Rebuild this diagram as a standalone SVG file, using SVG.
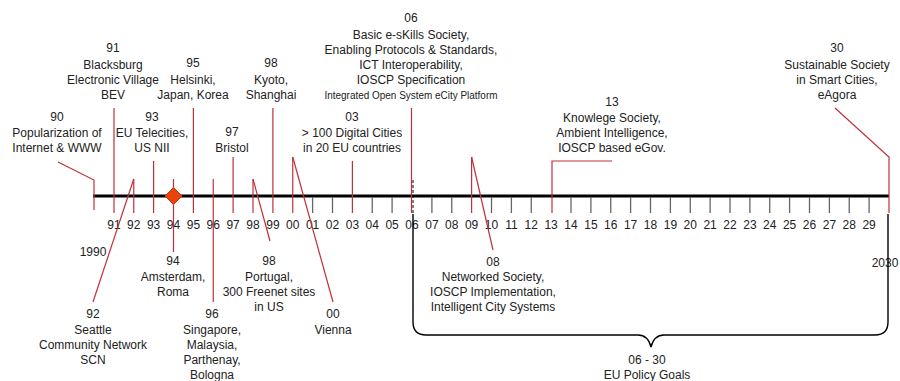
<svg xmlns="http://www.w3.org/2000/svg" width="900" height="381" viewBox="0 0 900 381">
<style>
text{font-family:"Liberation Sans",Arial,sans-serif;font-size:12px;fill:#222;text-anchor:middle}
.small{font-size:10px}
.ld{stroke:#c0303a;stroke-width:1.2;fill:none}
.tk{stroke:#666;stroke-width:1.3}
.ax{stroke:#000;stroke-width:3}
.br{stroke:#000;stroke-width:1.4;fill:none}
</style>
<rect width="900" height="381" fill="#fff"/>
<g id="axis">
<line class="ax" x1="93" y1="196" x2="889" y2="196"/>
<g class="tk">
<line x1="312.6" y1="197" x2="312.6" y2="213"/>
<line x1="332.5" y1="197" x2="332.5" y2="213"/>
<line x1="372.25" y1="197" x2="372.25" y2="213"/>
<line x1="392.1" y1="197" x2="392.1" y2="213"/>
<line x1="431.9" y1="197" x2="431.9" y2="213"/>
<line x1="451.75" y1="197" x2="451.75" y2="213"/>
<line x1="491.5" y1="197" x2="491.5" y2="213"/>
<line x1="511.4" y1="197" x2="511.4" y2="213"/>
<line x1="531.25" y1="197" x2="531.25" y2="213"/>
<line x1="571" y1="197" x2="571" y2="213"/>
<line x1="590.9" y1="197" x2="590.9" y2="213"/>
<line x1="610.75" y1="197" x2="610.75" y2="213"/>
<line x1="630.6" y1="197" x2="630.6" y2="213"/>
<line x1="650.5" y1="197" x2="650.5" y2="213"/>
<line x1="670.4" y1="197" x2="670.4" y2="213"/>
<line x1="690.25" y1="197" x2="690.25" y2="213"/>
<line x1="710.1" y1="197" x2="710.1" y2="213"/>
<line x1="730" y1="197" x2="730" y2="213"/>
<line x1="749.9" y1="197" x2="749.9" y2="213"/>
<line x1="769.75" y1="197" x2="769.75" y2="213"/>
<line x1="789.6" y1="197" x2="789.6" y2="213"/>
<line x1="809.5" y1="197" x2="809.5" y2="213"/>
<line x1="829.4" y1="197" x2="829.4" y2="213"/>
<line x1="849.25" y1="197" x2="849.25" y2="213"/>
<line x1="869.1" y1="197" x2="869.1" y2="213"/>
</g>
<line x1="413" y1="180" x2="413" y2="213" stroke="#000" stroke-width="1" stroke-dasharray="3,2"/>
<g id="tick-labels">
<text x="113.9" y="229">91</text><text x="133.75" y="229">92</text><text x="153.6" y="229">93</text><text x="173.5" y="229">94</text>
<text x="193.4" y="229">95</text><text x="213.25" y="229">96</text><text x="233.1" y="229">97</text><text x="253" y="229">98</text>
<text x="272.9" y="229">99</text><text x="292.75" y="229">00</text><text x="312.6" y="229">01</text><text x="332.5" y="229">02</text>
<text x="352.4" y="229">03</text><text x="372.25" y="229">04</text><text x="392.1" y="229">05</text><text x="412" y="229">06</text>
<text x="431.9" y="229">07</text><text x="451.75" y="229">08</text><text x="471.6" y="229">09</text><text x="491.5" y="229">10</text>
<text x="511.4" y="229">11</text><text x="531.25" y="229">12</text><text x="551.1" y="229">13</text><text x="571" y="229">14</text>
<text x="590.9" y="229">15</text><text x="610.75" y="229">16</text><text x="630.6" y="229">17</text><text x="650.5" y="229">18</text>
<text x="670.4" y="229">19</text><text x="690.25" y="229">20</text><text x="710.1" y="229">21</text><text x="730" y="229">22</text>
<text x="749.9" y="229">23</text><text x="769.75" y="229">24</text><text x="789.6" y="229">25</text><text x="809.5" y="229">26</text>
<text x="829.4" y="229">27</text><text x="849.25" y="229">28</text><text x="869.1" y="229">29</text>
<text x="93" y="256">1990</text>
<text x="885" y="267">2030</text>
</g>
</g>
<g id="connectors">
<polyline class="ld" points="58,162 94,180 94,210"/>
<line class="ld" x1="114" y1="108" x2="114" y2="213"/>
<line class="ld" x1="133.75" y1="179" x2="133.75" y2="213"/>
<line class="ld" x1="133.75" y1="179" x2="93" y2="302"/>
<line class="ld" x1="153.6" y1="161" x2="153.6" y2="213"/>
<line class="ld" x1="173.5" y1="179" x2="173.5" y2="252"/>
<line class="ld" x1="193.4" y1="108" x2="193.4" y2="213"/>
<line class="ld" x1="213.25" y1="179" x2="213.25" y2="302"/>
<line class="ld" x1="233.1" y1="157" x2="233.1" y2="213"/>
<line class="ld" x1="253" y1="179" x2="253" y2="213"/>
<line class="ld" x1="253" y1="179" x2="270" y2="241"/>
<line class="ld" x1="272.9" y1="108" x2="272.9" y2="213"/>
<line class="ld" x1="292.75" y1="157" x2="292.75" y2="213"/>
<line class="ld" x1="292.75" y1="157" x2="333" y2="302"/>
<line class="ld" x1="352.4" y1="161" x2="352.4" y2="213"/>
<line class="ld" x1="411.5" y1="108" x2="411.5" y2="213"/>
<line class="ld" x1="471.6" y1="157" x2="471.6" y2="213"/>
<line class="ld" x1="471.6" y1="157" x2="493" y2="250"/>
<polyline class="ld" points="612,161 552,161 552,213"/>
<polyline class="ld" points="835,108 889,157 889,213"/>
<path class="br" d="M413,214 L413,322 Q413,335 426,335 L638,335 Q648,335 651,347 Q654,335 664,335 L875,335 Q888,335 888,322 L888,214"/>
</g>
<g id="marker-94">
<path d="M173.5,187.5 L182,196 L173.5,204.5 L165,196 Z" fill="#e8430a" stroke="#c53206" stroke-width="1"/>
</g>
<g id="e90"><text x="57" y="121">90</text><text x="57" y="137">Popularization of</text><text x="57" y="152">Internet &amp; WWW</text></g>
<g id="e91"><text x="113" y="52">91</text><text x="113" y="69">Blacksburg</text><text x="113" y="84">Electronic Village</text><text x="113" y="99">BEV</text></g>
<g id="e93"><text x="152" y="121">93</text><text x="152" y="137">EU Telecities,</text><text x="152" y="152">US NII</text></g>
<g id="e95"><text x="193" y="67">95</text><text x="193" y="84">Helsinki,</text><text x="193" y="99">Japan, Korea</text></g>
<g id="e97"><text x="232" y="136">97</text><text x="232" y="152">Bristol</text></g>
<g id="e98k"><text x="271" y="67">98</text><text x="271" y="84">Kyoto,</text><text x="271" y="99">Shanghai</text></g>
<g id="e03"><text x="352" y="121">03</text><text x="352" y="137">&gt; 100 Digital Cities</text><text x="352" y="152">in 20 EU countries</text></g>
<g id="e06"><text x="411" y="22">06</text><text x="411" y="39">Basic e-sKills Society,</text><text x="411" y="54">Enabling Protocols &amp; Standards,</text><text x="411" y="69">ICT Interoperability,</text><text x="411" y="84">IOSCP Specification</text><text class="small" x="411" y="99" textLength="173" lengthAdjust="spacingAndGlyphs">Integrated Open System eCity Platform</text></g>
<g id="e13"><text x="612" y="106">13</text><text x="612" y="122">Knowlege Society,</text><text x="612" y="137">Ambient Intelligence,</text><text x="612" y="152">IOSCP based eGov.</text></g>
<g id="e30"><text x="837" y="52">30</text><text x="837" y="69">Sustainable Society</text><text x="837" y="84">in Smart Cities,</text><text x="837" y="99">eAgora</text></g>
<g id="e92"><text x="93" y="318">92</text><text x="93" y="334">Seattle</text><text x="93" y="349">Community Network</text><text x="93" y="364">SCN</text></g>
<g id="e94"><text x="173" y="265">94</text><text x="173" y="281">Amsterdam,</text><text x="173" y="296">Roma</text></g>
<g id="e96"><text x="212" y="318">96</text><text x="212" y="334">Singapore,</text><text x="212" y="349">Malaysia,</text><text x="212" y="364">Parthenay,</text><text x="212" y="379">Bologna</text></g>
<g id="e98p"><text x="269" y="265">98</text><text x="269" y="281">Portugal,</text><text x="269" y="296">300 Freenet sites</text><text x="269" y="311">in US</text></g>
<g id="e00"><text x="333" y="318">00</text><text x="333" y="334">Vienna</text></g>
<g id="e08"><text x="493" y="266">08</text><text x="493" y="281">Networked Society,</text><text x="493" y="296">IOSCP Implementation,</text><text x="493" y="311">Intelligent City Systems</text></g>
<g id="policy"><text x="647" y="364">06 - 30</text><text x="647" y="379">EU Policy Goals</text></g>
</svg>
